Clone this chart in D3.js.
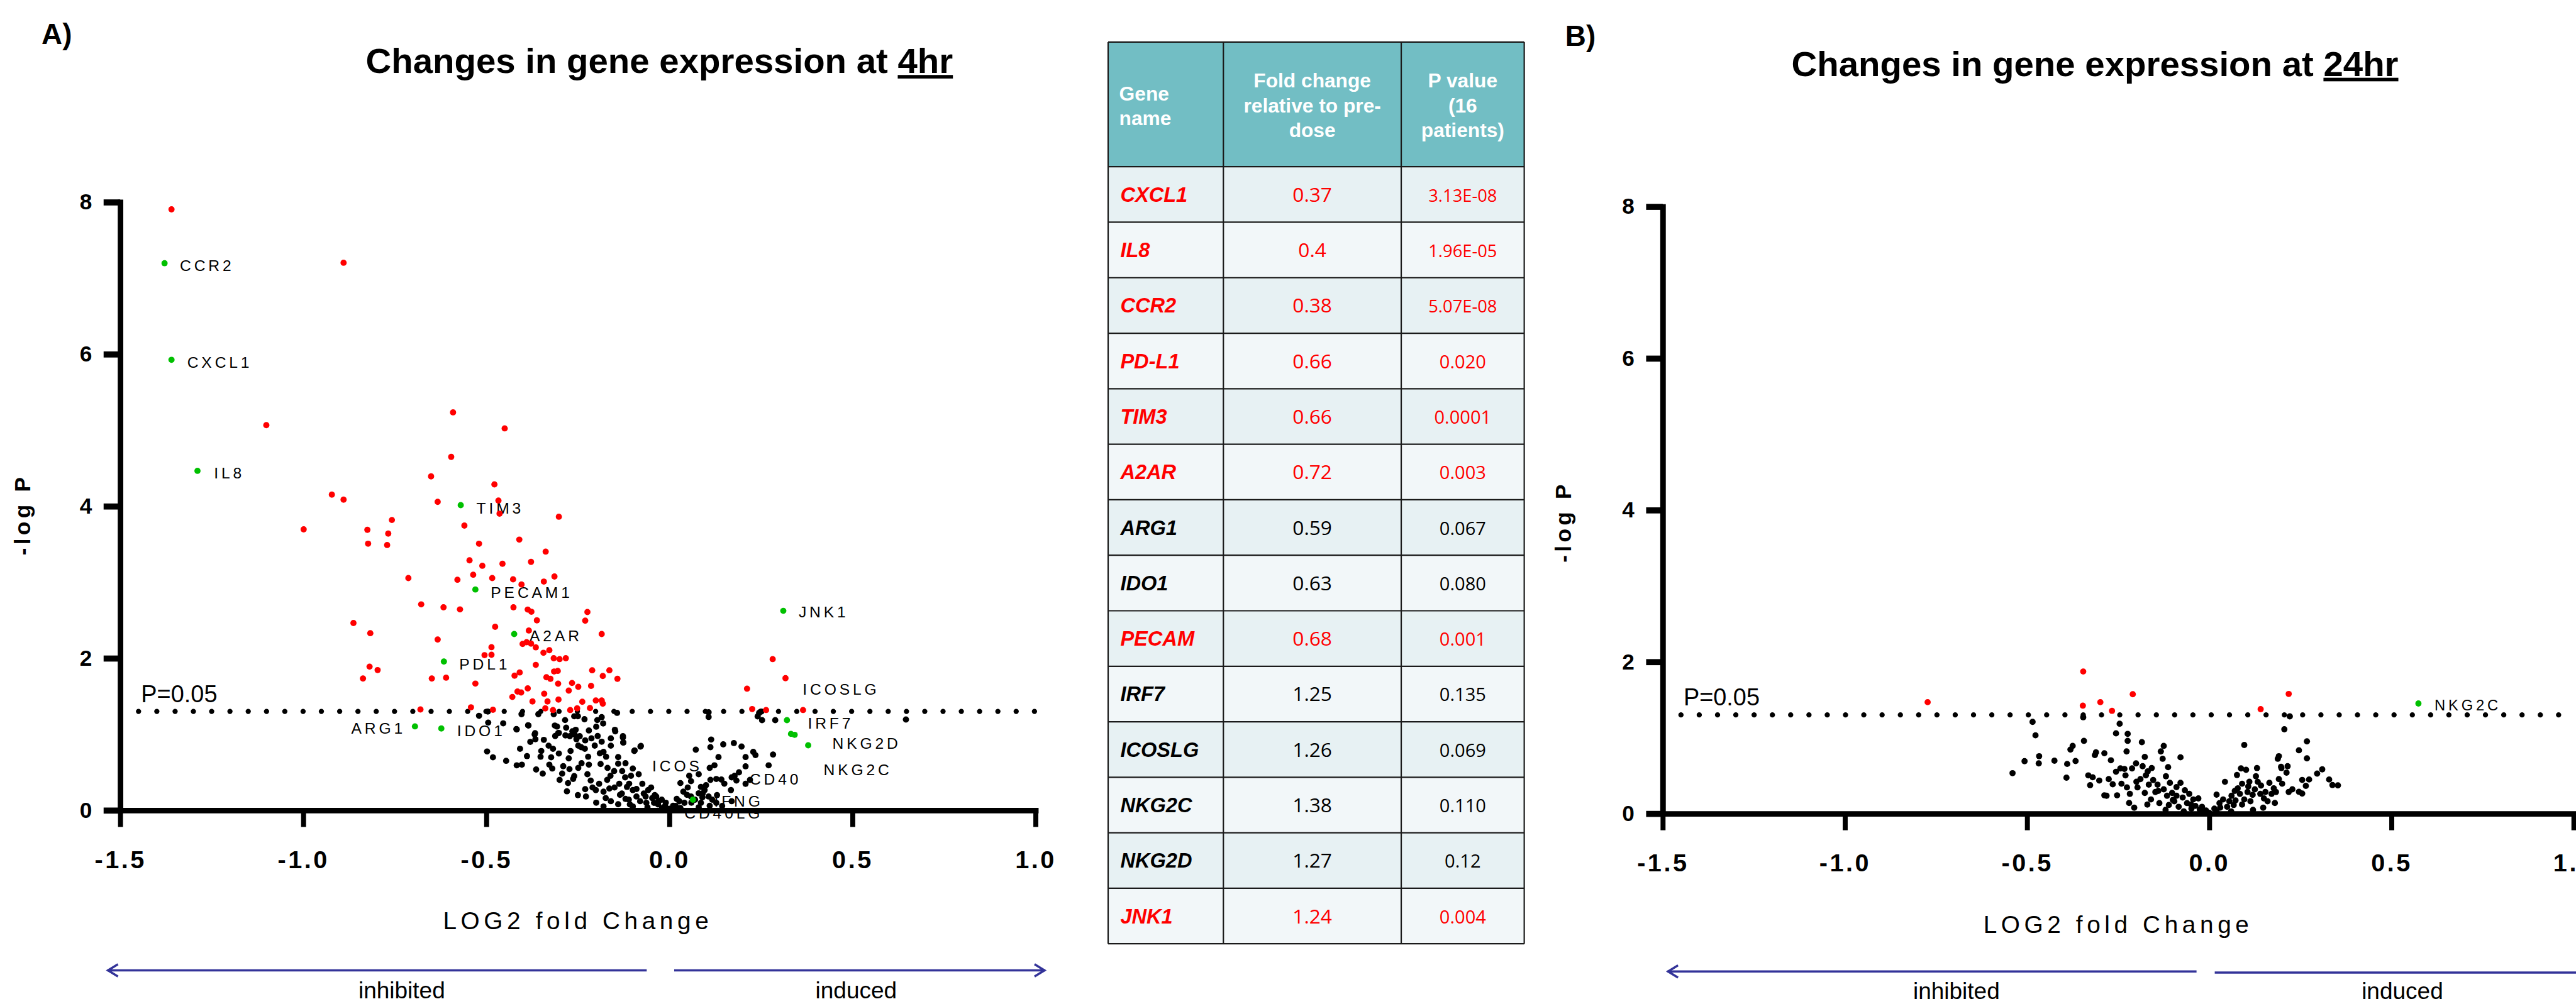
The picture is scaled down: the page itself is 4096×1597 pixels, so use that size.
<!DOCTYPE html>
<html>
<head>
<meta charset="utf-8">
<script src="https://cdn.jsdelivr.net/npm/d3@7/dist/d3.min.js"></script>
<style>
html, body { margin: 0; padding: 0; background: #fff; }
svg { display: block; }
</style>
</head>
<body>
<svg id="chart" width="4096" height="1597"></svg>
<script>
// colours
const RED = '#FF0000';
const GREEN = '#00C000';
const BLACK = '#000000';
const ARROW = '#333399';
const TEAL = '#72BEC4';

// P = 0.05 threshold on the -log P axis
const P_LINE = -Math.log10(0.05);

// ---- panel A (4hr): [log2 fold change, -log P] ----
const redA = [
  [-1.360,7.905],[-0.890,7.203],[-1.101,5.067],[-0.591,5.235],[-0.596,4.649],[-0.651,4.393],[-0.478,4.287],
  [-0.922,4.153],[-0.890,4.087],[-0.633,4.058],[-0.467,4.075],[-0.464,3.902],[-0.758,3.819],[-0.999,3.696],
  [-0.825,3.690],[-0.560,3.746],[-0.768,3.640],[-0.823,3.507],[-0.771,3.490],[-0.520,3.507],[-0.546,3.289],
  [-0.511,3.217],[-0.536,3.099],[-0.713,3.055],[-0.579,3.033],[-0.484,3.055],[-0.678,2.709],[-0.617,2.670],
  [-0.572,2.643],[-0.863,2.464],[-0.476,2.414],[-0.817,2.330],[-0.633,2.247],[-0.486,2.146],[-0.505,2.041],
  [-0.486,2.046],[-0.819,1.890],[-0.797,1.845],[-0.837,1.734],[-0.649,1.734],[-0.610,1.745],[-0.530,1.667],
  [-0.542,1.355],[-0.482,1.322],[-0.680,1.327],
  [-0.450,5.024],[-0.302,3.862],[-0.410,3.561],[-0.338,3.403],[-0.378,3.268],[-0.456,3.243],[-0.427,3.038],
  [-0.314,3.076],[-0.343,3.009],[-0.404,2.971],[-0.426,2.670],[-0.387,2.641],[-0.377,2.612],[-0.362,2.499],
  [-0.224,2.608],[-0.230,2.495],[-0.185,2.319],[-0.384,2.365],[-0.401,2.189],[-0.390,2.211],[-0.378,2.193],
  [-0.365,2.144],[-0.344,2.072],[-0.328,2.106],[-0.316,2.001],[-0.300,1.989],[-0.283,2.001],[-0.365,1.913],
  [-0.315,1.826],[-0.305,1.834],[-0.211,1.842],[-0.164,1.842],[-0.182,1.767],[-0.142,1.730],[-0.423,1.771],
  [-0.409,1.813],[-0.336,1.750],[-0.325,1.730],[-0.304,1.666],[-0.266,1.675],[-0.249,1.625],[-0.275,1.575],
  [-0.214,1.637],[-0.387,1.604],[-0.415,1.562],[-0.405,1.550],[-0.342,1.533],[-0.429,1.491],[-0.374,1.432],
  [-0.333,1.432],[-0.303,1.457],[-0.238,1.428],[-0.201,1.445],[-0.185,1.445],[-0.182,1.403],[-0.217,1.345],
  [-0.339,1.341],[-0.318,1.319],[-0.271,1.319],[-0.252,1.341],
  [0.282,1.989],[0.317,1.738],[0.212,1.600],[0.226,1.332],[0.264,1.319],[0.365,1.319]
];

const blackA = [
  [-0.520,1.243],[-0.496,1.299],[-0.495,1.154],[-0.498,0.774],[-0.482,0.697],
  [-0.404,1.265],[-0.358,1.265],[-0.316,1.265],[-0.260,1.237],[-0.250,1.237],[-0.185,1.226],[-0.143,1.282],
  [-0.285,1.187],[-0.232,1.198],[-0.197,1.187],[-0.181,1.142],[-0.313,1.115],[-0.282,1.087],[-0.385,1.115],
  [-0.417,1.064],[-0.367,1.014],[-0.304,1.014],[-0.272,0.975],[-0.256,1.059],[-0.245,0.975],[-0.213,0.947],
  [-0.160,0.947],[-0.149,1.059],[-0.127,0.975],[-0.126,0.891],[-0.078,0.847],[-0.096,0.780],
  [-0.454,1.144],[-0.418,1.069],[-0.386,1.119],[-0.408,0.809],[-0.389,0.713],[-0.446,0.651],[-0.417,0.592],
  [-0.403,0.600],[-0.368,0.998],[-0.366,0.935],[-0.343,0.927],[-0.352,0.705],[-0.328,0.600],[-0.364,0.537],
  [-0.346,0.483],[-0.323,0.697],[-0.312,0.977],[-0.307,1.102],[-0.302,1.018],[-0.318,0.809],[-0.302,0.747],
  [-0.293,0.483],[-0.284,0.985],[-0.275,0.684],[-0.273,0.542],[-0.265,1.039],[-0.259,0.998],[-0.254,0.935],
  [-0.249,0.851],[-0.241,0.830],[-0.277,0.358],[-0.263,0.412],[-0.249,0.558],[-0.231,0.809],[-0.222,0.705],
  [-0.220,0.600],[-0.224,0.475],[-0.215,0.391],[-0.230,0.278],[-0.228,0.182],[-0.204,0.851],[-0.196,0.977],
  [-0.185,0.902],[-0.180,0.768],[-0.188,0.609],[-0.192,0.349],[-0.201,0.266],[-0.180,0.245],[-0.173,0.705],
  [-0.169,0.558],[-0.161,0.454],[-0.164,0.287],[-0.174,0.161],[-0.151,0.517],[-0.148,1.039],[-0.140,0.613],
  [-0.137,0.349],[-0.135,0.203],[-0.127,0.956],[-0.126,0.893],[-0.129,0.517],[-0.121,0.433],[-0.116,0.308],
  [-0.111,0.140],[-0.108,0.077],[-0.105,0.454],[-0.100,0.266],[-0.095,0.788],[-0.090,0.182],[-0.084,0.475],
  [-0.079,0.839],[-0.074,0.349],[-0.065,0.182],[-0.063,0.098],[-0.058,0.266],[-0.047,0.161],[-0.042,0.098],
  [-0.036,0.182],[-0.031,0.077],[-0.021,0.140],[-0.012,0.057],
  [-0.20,0.10],[-0.18,0.05],[-0.16,0.12],[-0.15,0.30],[-0.14,0.08],[-0.13,0.22],[-0.12,0.15],[-0.11,0.35],
  [-0.10,0.05],[-0.09,0.28],[-0.08,0.12],[-0.07,0.22],[-0.06,0.04],[-0.05,0.30],[-0.04,0.20],[-0.03,0.12],
  [-0.02,0.03],[-0.01,0.10],[0.00,0.02],[0.01,0.06],[0.02,0.15],[0.03,0.03],[-0.25,0.20],[-0.26,0.45],
  [-0.24,0.62],[-0.28,0.25],[-0.30,0.40],[-0.32,0.55],[-0.21,0.30],[-0.19,0.75],[-0.17,0.40],[-0.16,0.85],
  [-0.14,0.70],[-0.12,0.62],[-0.10,0.55],[-0.33,0.85],[-0.35,0.78],[-0.38,0.90],[-0.29,0.58],[-0.27,0.78],
  [-0.23,0.92],[-0.22,1.05],[-0.20,1.10],
  [0.107,1.228],[0.114,0.931],[0.112,0.830],[0.072,0.797],[0.147,0.868],[0.176,0.885],[0.197,0.839],
  [0.208,0.701],[0.229,0.768],[0.235,0.726],[0.134,0.701],[0.110,0.558],[0.123,0.592],[0.208,0.579],
  [0.271,0.592],[0.283,0.734],[0.080,0.475],[0.054,0.454],[0.030,0.358],[0.059,0.383],[0.086,0.308],
  [0.096,0.266],[0.112,0.400],[0.128,0.412],[0.142,0.404],[0.170,0.433],[0.178,0.454],[0.183,0.391],
  [0.208,0.349],[0.168,0.266],[0.038,0.245],[0.048,0.203],[0.059,0.182],[0.070,0.140],[0.080,0.224],
  [0.091,0.224],[0.107,0.182],[0.117,0.140],[0.027,0.119],[0.017,0.057],[0.041,0.098],[0.086,0.098],
  [0.128,0.098],[0.144,0.057],[0.05,0.30],[0.06,0.10],[0.08,0.04],[0.09,0.17],[0.10,0.33],[0.11,0.06],
  [0.13,0.20],[0.15,0.35],[0.17,0.12],[0.19,0.50],[0.22,0.40],
  [0.241,1.236],[0.253,1.186],[0.289,1.186],[0.245,1.282],[0.646,1.194],[0.107,1.290],[0.251,1.299]
];

const greenA = [
  [-1.379,7.197],[-1.360,5.926],[-1.289,4.466],[-0.570,4.014],[-0.530,2.905],[-0.424,2.319],[-0.616,1.957],
  [-0.695,1.104],[-0.623,1.076],[0.311,2.624],[0.321,1.186],[0.332,1.005],[0.342,0.993],[0.379,0.855],
  [0.064,0.140]
];

// gene labels: text start (log2 FC) and baseline (-log P)
const labelsA = [
  {gene: 'CCR2', x: -1.337, y: 7.097}, {gene: 'CXCL1', x: -1.317, y: 5.822},
  {gene: 'IL8', x: -1.244, y: 4.364}, {gene: 'TIM3', x: -0.527, y: 3.905},
  {gene: 'PECAM1', x: -0.488, y: 2.798}, {gene: 'A2AR', x: -0.382, y: 2.222},
  {gene: 'PDL1', x: -0.574, y: 1.851}, {gene: 'ARG1', x: -0.869, y: 1.005},
  {gene: 'IDO1', x: -0.580, y: 0.976}, {gene: 'JNK1', x: 0.353, y: 2.536},
  {gene: 'ICOSLG', x: 0.364, y: 1.523}, {gene: 'IRF7', x: 0.378, y: 1.071},
  {gene: 'NKG2D', x: 0.445, y: 0.809}, {gene: 'NKG2C', x: 0.421, y: 0.466},
  {gene: 'ICOS', x: -0.047, y: 0.510}, {gene: 'CD40', x: 0.219, y: 0.342},
  {gene: 'IFNG', x: 0.122, y: 0.051}, {gene: 'CD40LG', x: 0.041, y: -0.109}
];

// ---- panel B (24hr) ----
const redB = [
  [-0.773,1.469],[-0.346,1.873],[-0.347,1.423],[-0.299,1.469],[-0.267,1.355],[-0.210,1.574],
  [0.141,1.377],[0.218,1.577]
];

const blackB = [
  [-0.540,0.533],[-0.507,0.691],[-0.485,1.209],[-0.477,1.032],[-0.467,0.757],[-0.468,0.662],[-0.425,0.698],
  [-0.392,0.474],[-0.390,0.655],[-0.381,0.844],[-0.375,0.893],[-0.367,0.693],[-0.344,0.959],[-0.346,1.270],
  [-0.332,0.504],[-0.327,0.375],[-0.320,0.479],[-0.314,0.771],[-0.311,0.808],[-0.302,0.436],[-0.288,0.796],
  [-0.288,0.241],[-0.282,0.236],[-0.276,0.455],[-0.270,0.703],[-0.265,0.387],[-0.256,0.552],[-0.256,1.058],
  [-0.253,0.241],[-0.246,1.185],[-0.244,0.596],[-0.241,0.394],[-0.233,0.589],[-0.230,0.504],[-0.227,0.820],
  [-0.226,0.346],[-0.224,1.051],[-0.224,0.959],[-0.218,0.260],[-0.212,0.596],[-0.206,0.078],[-0.201,0.662],
  [-0.197,0.346],[-0.189,0.455],[-0.185,0.942],[-0.183,0.625],[-0.177,0.747],[-0.177,0.273],[-0.174,0.504],
  [-0.169,0.557],[-0.166,0.382],[-0.160,0.187],[-0.158,0.601],[-0.154,0.443],[-0.148,0.285],[-0.142,0.382],
  [-0.137,0.139],[-0.133,0.820],[-0.128,0.723],[-0.125,0.893],[-0.125,0.321],[-0.119,0.492],[-0.116,0.236],
  [-0.113,0.613],[-0.111,0.114],[-0.108,0.406],[-0.102,0.273],[-0.096,0.163],[-0.090,0.236],[-0.084,0.090],
  [-0.079,0.406],[-0.079,0.742],[-0.073,0.212],[-0.067,0.309],[-0.061,0.139],[-0.055,0.260],[-0.049,0.066],
  [-0.044,0.187],[-0.038,0.102],[-0.026,0.054],[-0.020,0.090],[-0.015,0.029],[-0.009,0.041],
  [-0.12,0.05],[-0.10,0.18],[-0.07,0.03],[-0.05,0.12],[-0.03,0.20],[0.00,0.01],[-0.17,0.12],[-0.14,0.30],
  [-0.09,0.35],[-0.20,0.42],[-0.22,0.14],
  [0.014,0.066],[0.020,0.029],[0.028,0.139],[0.038,0.187],[0.043,0.419],[0.049,0.090],[0.055,0.163],
  [0.061,0.236],[0.067,0.114],[0.072,0.175],[0.076,0.509],[0.078,0.333],[0.084,0.260],[0.087,0.596],
  [0.090,0.394],[0.096,0.905],[0.096,0.187],[0.101,0.577],[0.105,0.285],[0.107,0.358],[0.113,0.163],
  [0.119,0.248],[0.125,0.321],[0.128,0.492],[0.131,0.601],[0.133,0.419],[0.140,0.260],[0.142,0.370],
  [0.148,0.078],[0.154,0.285],[0.160,0.163],[0.165,0.406],[0.171,0.260],[0.177,0.333],[0.183,0.285],
  [0.188,0.723],[0.191,0.455],[0.198,0.601],[0.200,0.394],[0.206,1.112],[0.212,0.540],[0.215,0.625],
  [0.221,1.282],[0.218,0.285],[0.03,0.08],[0.06,0.03],[0.09,0.12],[0.12,0.05],[0.07,0.30],[0.11,0.42],
  [0.15,0.20],[0.18,0.14],[0.02,0.25],
  [0.268,0.952],[0.246,0.835],[0.268,0.729],[0.310,0.584],[0.296,0.528],[0.255,0.444],[0.274,0.450],
  [0.329,0.450],[0.338,0.377],[0.353,0.372],[0.265,0.366],[0.246,0.288],[0.228,0.321],[0.255,0.265],
  [0.191,0.757],[0.197,0.617]
];

const greenB = [[0.574,1.451]];
const labelsB = [{gene: 'NKG2C', x: 0.618, y: 1.358}];

// axis ticks
const xTicks = [-1.5, -1.0, -0.5, 0.0, 0.5, 1.0];
const yTicks = [0, 2, 4, 6, 8];

// ---- table ----
const geneNames = ['CXCL1','IL8','CCR2','PD-L1','TIM3','A2AR','ARG1','IDO1','PECAM','IRF7','ICOSLG','NKG2C','NKG2D','JNK1'];
const foldChange = ['0.37','0.4','0.38','0.66','0.66','0.72','0.59','0.63','0.68','1.25','1.26','1.38','1.27','1.24'];
const pValues = ['3.13E-08','1.96E-05','5.07E-08','0.020','0.0001','0.003','0.067','0.080','0.001','0.135','0.069','0.110','0.12','0.004'];
const significant = [true,true,true,true,true,true,false,false,true,false,false,false,false,true];
const headerLines = [['Gene','name'], ['Fold change','relative to pre-','dose'], ['P value','(16','patients)']];

const SANS = "'Liberation Sans', Arial, sans-serif";
const NUM = "'Open Sans', 'Liberation Sans', sans-serif";

const root = d3.select('#chart').append('g').attr('transform', 'scale(0.881)');

function volcano(opt) {
  const g = root.append('g');
  const x = d3.scaleLinear().domain([-1.5, 1.0]).range([opt.x0, opt.x1]);
  const y = d3.scaleLinear().domain([0, 8]).range([opt.y0, opt.y8]);

  // panel letter and title
  g.append('text').attr('x', opt.letterX).attr('y', opt.letterY)
    .attr('font-family', SANS).attr('font-weight', 'bold').attr('font-size', 52)
    .text(opt.letter);
  const t = g.append('text').attr('x', opt.titleX).attr('y', opt.titleY)
    .attr('text-anchor', 'middle').attr('font-family', SANS)
    .attr('font-weight', 'bold').attr('font-size', 64);
  t.append('tspan').text('Changes in gene expression at ');
  t.append('tspan').style('text-decoration', 'underline').text(opt.time);

  // dotted P=0.05 line
  g.append('line')
    .attr('x1', x(-1.45)).attr('x2', x(1.0) + 1)
    .attr('y1', y(P_LINE)).attr('y2', y(P_LINE))
    .attr('stroke', BLACK).attr('stroke-width', 9.5)
    .attr('stroke-linecap', 'round').attr('stroke-dasharray', '0 33');
  g.append('text').attr('x', x(-1.443)).attr('y', y(P_LINE) - 17)
    .attr('font-family', SANS).attr('font-size', 43).text('P=0.05');

  // gene labels (drawn under the axes)
  g.selectAll('text.gene').data(opt.labels).join('text')
    .attr('class', 'gene')
    .attr('x', d => x(d.x)).attr('y', d => y(d.y))
    .attr('font-family', SANS).attr('font-size', opt.labelSize)
    .attr('letter-spacing', 5.5)
    .text(d => d.gene);

  // points
  const groups = [[opt.black, BLACK], [opt.red, RED], [opt.green, GREEN]];
  groups.forEach(([pts, col]) => {
    g.append('g').selectAll('circle').data(pts).join('circle')
      .attr('cx', d => x(d[0])).attr('cy', d => y(d[1]))
      .attr('r', 5.6).attr('fill', col);
  });

  // axes
  const ya = g.append('g').attr('transform', `translate(${opt.x0},0)`)
    .call(d3.axisLeft(y).tickValues(yTicks).tickSize(30).tickSizeOuter(0).tickPadding(21).tickFormat(d => d));
  ya.select('.domain').attr('stroke-width', 10).attr('stroke-linecap', 'square');
  ya.selectAll('.tick line').attr('stroke-width', 11);
  ya.selectAll('.tick text').attr('font-family', SANS).attr('font-weight', 'bold').attr('font-size', 40);

  const xa = g.append('g').attr('transform', `translate(0,${opt.y0})`)
    .call(d3.axisBottom(x).tickValues(xTicks).tickSize(30).tickSizeOuter(0).tickFormat(d => d.toFixed(1)));
  xa.select('.domain').attr('stroke-width', 10).attr('stroke-linecap', 'square');
  xa.selectAll('.tick line').attr('stroke-width', 9);
  xa.selectAll('.tick text').attr('y', 104).attr('dy', 0)
    .attr('font-family', SANS).attr('font-weight', 'bold').attr('font-size', 45)
    .attr('letter-spacing', 4);

  // axis titles
  g.append('text')
    .attr('transform', `translate(${opt.yTitleX},${opt.yTitleY}) rotate(-90)`)
    .attr('text-anchor', 'middle').attr('font-family', SANS)
    .attr('font-weight', 'bold').attr('font-size', 40).attr('letter-spacing', 6)
    .text('-log P');
  g.append('text').attr('x', x(-0.25)).attr('y', opt.y0 + opt.xTitleDy)
    .attr('text-anchor', 'middle').attr('font-family', SANS).attr('font-size', 44)
    .attr('letter-spacing', 7.5).text('LOG2 fold Change');

  // inhibited / induced arrows
  const ay = opt.arrowY;
  const arrows = g.append('g').attr('fill', 'none').attr('stroke', ARROW).attr('stroke-width', 4);
  const lt = x(opt.arrow[0]), le = x(opt.arrow[1]), rs = x(opt.arrow[2]), rt = x(opt.arrow[3]);
  arrows.append('path').attr('d', `M${lt},${ay} H${le}`);
  arrows.append('path').attr('d', `M${lt + 19},${ay - 11} L${lt + 1},${ay} L${lt + 19},${ay + 11}`);
  arrows.append('path').attr('d', `M${rs},${ay + opt.rightDy} H${rt}`);
  arrows.append('path').attr('d', `M${rt - 19},${ay - 11} L${rt - 1},${ay} L${rt - 19},${ay + 11}`);
  g.append('text').attr('x', x(opt.textPos[0])).attr('y', ay + 50)
    .attr('text-anchor', 'middle').attr('font-family', SANS).attr('font-size', 42).text('inhibited');
  g.append('text').attr('x', x(opt.textPos[1])).attr('y', ay + 50)
    .attr('text-anchor', 'middle').attr('font-family', SANS).attr('font-size', 42).text('induced');
}

volcano({
  letter: 'A)', letterX: 75, letterY: 80, time: '4hr', titleX: 1190, titleY: 132,
  x0: 217, x1: 1869, y0: 1463, y8: 365,
  red: redA, black: blackA, green: greenA, labels: labelsA, labelSize: 28,
  yTitleX: 55, yTitleY: 929, xTitleDy: 215,
  arrowY: 1752, rightDy: 0, arrow: [-1.535, -0.062, 0.013, 1.026], textPos: [-0.731, 0.510]
});

volcano({
  letter: 'B)', letterX: 2825, letterY: 83, time: '24hr', titleX: 3781, titleY: 137,
  x0: 3001, x1: 4645, y0: 1469, y8: 373,
  red: redB, black: blackB, green: greenB, labels: labelsB, labelSize: 27,
  yTitleX: 2835, yTitleY: 942, xTitleDy: 216,
  arrowY: 1754, rightDy: 2, arrow: [-1.487, -0.035, 0.015, 1.06], textPos: [-0.694, 0.530]
});

// ---- table ----
const tbl = root.append('g');
const colX = [2000, 2208, 2529, 2751];
const headTop = 76, headBottom = 301, tblBottom = 1704;
const rowY = d3.scaleBand().domain(geneNames).range([headBottom, tblBottom]);

tbl.append('rect').attr('x', colX[0]).attr('y', headTop)
  .attr('width', colX[3] - colX[0]).attr('height', headBottom - headTop).attr('fill', TEAL);
tbl.selectAll('rect.row').data(geneNames).join('rect').attr('class', 'row')
  .attr('x', colX[0]).attr('y', d => rowY(d))
  .attr('width', colX[3] - colX[0]).attr('height', rowY.bandwidth())
  .attr('fill', (d, i) => i % 2 === 0 ? '#E7F1F3' : '#F2F7F9');

// header text
const hx = [{x: 2020, anchor: 'start', base: [182, 226]},
            {x: (colX[1] + colX[2]) / 2, anchor: 'middle', base: [158, 203, 248]},
            {x: (colX[2] + colX[3]) / 2, anchor: 'middle', base: [158, 203, 248]}];
headerLines.forEach((lines, c) => {
  lines.forEach((s, k) => {
    tbl.append('text').attr('x', hx[c].x).attr('y', hx[c].base[k])
      .attr('text-anchor', hx[c].anchor).attr('fill', '#fff')
      .attr('font-family', SANS).attr('font-weight', 'bold').attr('font-size', 36).text(s);
  });
});

// body text
geneNames.forEach((gName, i) => {
  const base = rowY(gName) + rowY.bandwidth() / 2 + 13;
  const col = significant[i] ? RED : BLACK;
  tbl.append('text').attr('x', 2022).attr('y', base)
    .attr('fill', col).attr('font-family', SANS).attr('font-weight', 'bold')
    .attr('font-style', 'italic').attr('font-size', 37).text(gName);
  tbl.append('text').attr('x', (colX[1] + colX[2]) / 2).attr('y', base)
    .attr('text-anchor', 'middle').attr('fill', col)
    .attr('font-family', NUM).attr('font-size', 36).text(foldChange[i]);
  tbl.append('text').attr('x', (colX[2] + colX[3]) / 2).attr('y', base)
    .attr('text-anchor', 'middle').attr('fill', col)
    .attr('font-family', NUM).attr('font-size', i < 3 ? 31 : 33).text(pValues[i]);
});

// grid lines
const gridY = [headTop, headBottom].concat(geneNames.map(d => rowY(d) + rowY.bandwidth()));
tbl.selectAll('line.h').data(gridY).join('line').attr('class', 'h')
  .attr('x1', colX[0]).attr('x2', colX[3]).attr('y1', d => d).attr('y2', d => d)
  .attr('stroke', '#1a1a1a').attr('stroke-width', 2.5);
tbl.selectAll('line.v').data(colX).join('line').attr('class', 'v')
  .attr('x1', d => d).attr('x2', d => d).attr('y1', headTop).attr('y2', tblBottom)
  .attr('stroke', '#1a1a1a').attr('stroke-width', 2.5);
</script>
</body>
</html>
